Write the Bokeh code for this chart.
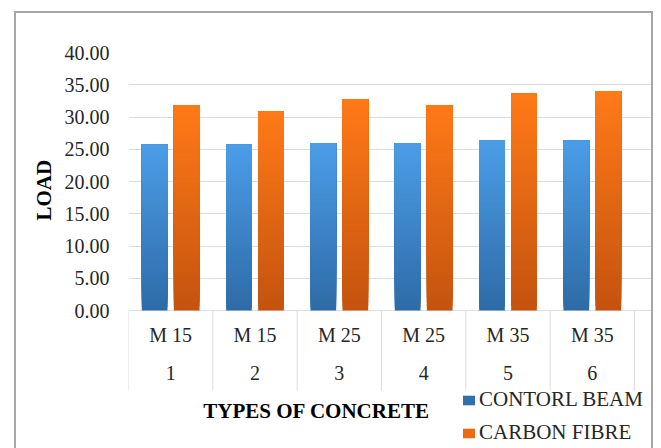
from bokeh.plotting import figure
from bokeh.models import (Range1d, LinearAxis, FixedTicker, NumeralTickFormatter,
                          Legend, LegendItem, Title, ColumnDataSource, Grid)
from bokeh.core.properties import value
from bokeh.embed import file_html
from bokeh.resources import INLINE

# ---- data ----
types = ["M 15", "M 15", "M 25", "M 25", "M 35", "M 35"]
numbers = ["1", "2", "3", "4", "5", "6"]
control_beam = [25.7, 25.7, 25.9, 25.9, 26.3, 26.3]
carbon_fibre = [31.8, 30.8, 32.8, 31.8, 33.6, 34.0]
y_ticks = [0, 5, 10, 15, 20, 25, 30, 35, 40]
series_names = ["CONTORL BEAM", "CARBON FIBRE"]
x_title = "TYPES OF CONCRETE"
y_title = "LOAD"

FONT = "Liberation Serif"
TEXT = "#262626"
GRID = "#D9DDE3"

# ---- layout (pixels) ----
W, H = 639, 440
BORDER_L, BORDER_T = 112, 39
X_UNIT = 84.33            # px per category
Y_UNIT = 258 / 40          # px per load unit
frame_w = W - BORDER_L
frame_h = H - BORDER_T
n_cat = len(types)
x_end = frame_w / X_UNIT
y_end = max(y_ticks)
y_start = y_end - frame_h / Y_UNIT


def below(px):
    """data-y of a point px pixels below the zero line"""
    return -px / Y_UNIT


def hex_to_rgb(h):
    h = h.lstrip("#")
    return tuple(int(h[i:i + 2], 16) for i in (0, 2, 4))


def lerp(c0, c1, t):
    a, b = hex_to_rgb(c0), hex_to_rgb(c1)
    return "#%02x%02x%02x" % tuple(round(a[i] + (b[i] - a[i]) * t) for i in range(3))


def gradient_source(values, centers, c_bottom, c_top, n=48):
    # overlapping slices (each reaches the bar top) so no seams show
    xs, bottoms, tops, colors = [], [], [], []
    for k in range(n):
        for x, v in zip(centers, values):
            xs.append(x)
            bottoms.append(v * k / n)
            tops.append(v)
            colors.append(lerp(c_bottom, c_top, (k + 0.5) / n))
    return ColumnDataSource(dict(x=xs, bottom=bottoms, top=tops, color=colors))


centers = [i + 0.5 for i in range(n_cat)]
dodge = 0.19
bar_w = 0.305

p = figure(width=W, height=H, x_range=Range1d(0, x_end), y_range=Range1d(y_start, y_end),
           output_backend="svg", toolbar_location=None,
           x_axis_type=None, y_axis_type=None,
           min_border_left=BORDER_L, min_border_right=0, min_border_top=BORDER_T, min_border_bottom=0,
           styles={"margin-left": "14px", "margin-top": "11px", "border": "2px solid #A6A6A6"})
p.outline_line_color = None
p.background_fill_color = "white"
p.border_fill_color = "white"

grid = Grid(dimension=1, ticker=FixedTicker(ticks=y_ticks), grid_line_color=GRID,
            grid_line_width=1, bounds=(0, n_cat))
p.add_layout(grid)

src_b = gradient_source(control_beam, [c - dodge for c in centers], "#2E6BA7", "#4B9DE8")
src_o = gradient_source(carbon_fibre, [c + dodge for c in centers], "#C4530F", "#FF7A17")
r_b = p.vbar(x="x", bottom="bottom", top="top", width=bar_w, source=src_b,
             fill_color="color", line_color=None)
r_o = p.vbar(x="x", bottom="bottom", top="top", width=bar_w, source=src_o,
             fill_color="color", line_color=None)

# category boxes below the zero line
bounds = list(range(n_cat + 1))
p.segment(x0=bounds, y0=[0] * len(bounds), x1=bounds, y1=[below(80)] * len(bounds),
          line_color=GRID, line_width=1)
p.text(x=centers, y=[below(24)] * n_cat, text=types, text_align="center", text_baseline="middle",
       text_font=value(FONT), text_font_size="20px", text_color=TEXT)
p.text(x=centers, y=[below(62)] * n_cat, text=numbers, text_align="center", text_baseline="middle",
       text_font=value(FONT), text_font_size="20px", text_color=TEXT)
p.text(x=[188 / X_UNIT], y=[below(100)], text=[x_title], text_align="center", text_baseline="middle",
       text_font=value(FONT), text_font_size="21px", text_font_style="bold", text_color="black")

yaxis = LinearAxis(ticker=FixedTicker(ticks=y_ticks), formatter=NumeralTickFormatter(format="0.00"),
                   axis_line_color=None, major_tick_line_color=None, minor_tick_line_color=None,
                   major_tick_out=0, major_tick_in=0, major_label_standoff=19,
                   major_label_text_font=FONT, major_label_text_font_size="20px",
                   major_label_text_color=TEXT)
p.add_layout(yaxis, "left")

ytitle = Title(text=y_title, align="left", offset=frame_h - 168, text_font=FONT,
               text_font_size="21px", text_font_style="bold", text_color="black", standoff=11)
p.add_layout(ytitle, "left")

legend = Legend(items=[LegendItem(label=series_names[0], renderers=[r_b], index=3 * n_cat),
                       LegendItem(label=series_names[1], renderers=[r_o], index=30 * n_cat)],
                location=(333, 8), orientation="vertical",
                background_fill_alpha=0, border_line_color=None, padding=0, margin=0,
                spacing=8, glyph_width=15, glyph_height=12, label_standoff=3,
                label_text_font=FONT, label_text_font_size="21px", label_text_color=TEXT,
                label_height=20)
p.add_layout(legend)

open("out.html", "w").write(file_html(p, INLINE))
